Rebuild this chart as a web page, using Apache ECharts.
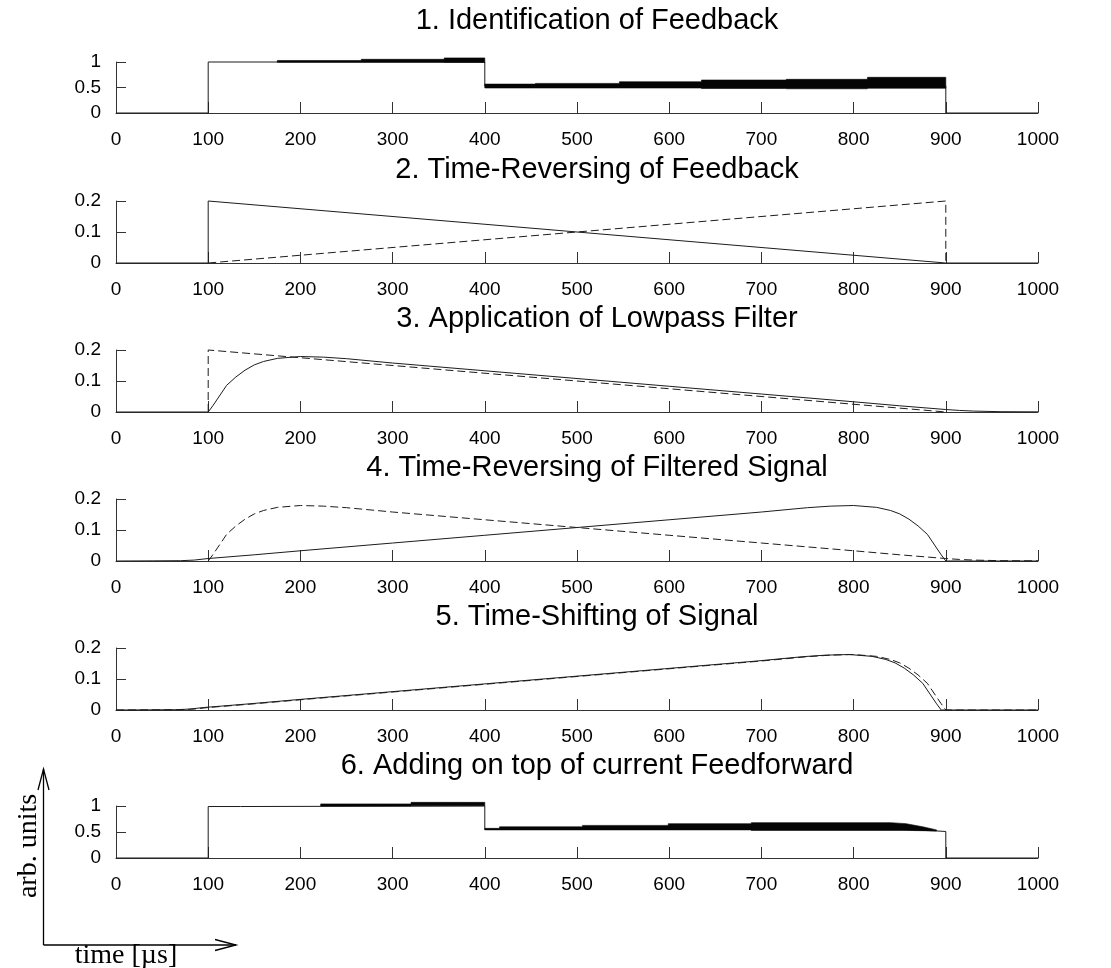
<!DOCTYPE html>
<html>
<head>
<meta charset="utf-8">
<script src="https://cdn.jsdelivr.net/npm/echarts/dist/echarts.min.js"></script>
<style>
html,body{margin:0;padding:0;background:#fff;}
#chart{width:1111px;height:968px;}
</style>
</head>
<body>
<div id="chart"></div>
<script>
// ---------- data (x in µs, y in arb. units) ----------
const xTicks = [0,100,200,300,400,500,600,700,800,900,1000];
const titles = [
  '1. Identification of Feedback',
  '2. Time-Reversing of Feedback',
  '3. Application of Lowpass Filter',
  '4. Time-Reversing of Filtered Signal',
  '5. Time-Shifting of Signal',
  '6. Adding on top of current Feedforward'
];
const yRanges = [[0,1,0.5],[0,0.2,0.1],[0,0.2,0.1],[0,0.2,0.1],[0,0.2,0.1],[0,1,0.5]];

// Panel 1: feedback (thin line + oscillation envelope bands [x, low, high])
const p1Line = [[0,0],[100,0],[100,1],[400,1],[400,0.53],[900,0.53],[900,0],[1000,0]];
const p1BandA = [[175,0.995,1.03],[266,0.995,1.03],[266,0.995,1.053],[356,0.995,1.053],[356,0.99,1.08],[400,0.99,1.08]];
const p1BandB = [[400,0.49,0.567],[455,0.49,0.567],[455,0.49,0.58],[546,0.49,0.58],[546,0.49,0.613],[635,0.49,0.613],
                 [635,0.48,0.647],[727,0.48,0.647],[727,0.475,0.66],[815,0.475,0.66],[815,0.485,0.70],[900,0.485,0.70]];

// Panel 2: time reversed feedback
const p2Solid  = [[0,0],[100,0],[100,0.2],[900,0],[1000,0]];
const p2Dashed = [[100,0],[900,0.2],[900,0]];

// Panel 3: lowpass filter
const p3Dashed = [[100,0],[100,0.2],[900,0]];
const p3Solid  = [[0,0],[100,0],[105,0.02],[110,0.042],[120,0.086],[130,0.113],[140,0.135],[150,0.152],[160,0.163],
                  [175,0.173],[200,0.179],[225,0.177],[250,0.172],[300,0.158],[400,0.133],[500,0.108],[600,0.083],
                  [700,0.058],[800,0.033],[850,0.02],[900,0.008],[915,0.005],[930,0.003],[960,0.001],[1000,0.0005]];

// Panel 4: time reversing of filtered signal
const p4Solid  = [[0,0],[40,0.0005],[70,0.001],[85,0.003],[100,0.008],[150,0.02],[200,0.033],[300,0.058],[400,0.083],
                  [500,0.108],[600,0.133],[700,0.158],[750,0.172],[775,0.177],[800,0.179],[825,0.173],[840,0.163],
                  [850,0.152],[860,0.135],[870,0.113],[880,0.086],[890,0.042],[895,0.02],[900,0],[1000,0]];
const p4Dashed = [[100,0],[105,0.02],[110,0.042],[120,0.086],[130,0.113],[140,0.135],[150,0.152],[160,0.163],
                  [175,0.173],[200,0.179],[225,0.177],[250,0.172],[300,0.158],[400,0.133],[500,0.108],[600,0.083],
                  [700,0.058],[800,0.033],[850,0.02],[900,0.008],[915,0.005],[930,0.003],[960,0.001],[1000,0.0005]];

// Panel 5: time shifting
const p5Dashed = [[0,0],[40,0.0005],[70,0.001],[85,0.003],[100,0.008],[150,0.02],[200,0.033],[300,0.058],[400,0.083],
                  [500,0.108],[600,0.133],[700,0.158],[750,0.172],[775,0.177],[800,0.179],[825,0.173],[840,0.163],
                  [850,0.152],[860,0.135],[870,0.113],[880,0.086],[890,0.042],[895,0.02],[900,0],[1000,0]];
const p5Solid  = [[0,0],[35,0.0005],[65,0.001],[80,0.003],[95,0.008],[145,0.02],[195,0.033],[295,0.058],[395,0.083],
                  [495,0.108],[595,0.133],[695,0.158],[745,0.172],[770,0.177],[795,0.179],[820,0.173],[835,0.163],
                  [845,0.152],[855,0.135],[865,0.113],[875,0.086],[885,0.042],[890,0.02],[895,0],[1000,0]];

// Panel 6: new feedforward
const p6Line = [[0,0],[100,0],[100,0.99],[135,0.99],[135,1],[400,1],[400,0.55],[850,0.55],[890,0.52],[900,0.51],[900,0],[1000,0]];
const p6BandA = [[222,1.0,1.04],[320,1.0,1.04],[320,1.005,1.07],[400,1.005,1.07]];
const p6BandB = [[400,0.54,0.57],[416,0.54,0.57],[416,0.54,0.60],[506,0.54,0.60],[506,0.54,0.627],[599,0.54,0.627],
                 [599,0.54,0.66],[689,0.54,0.66],[689,0.53,0.68],[840,0.53,0.68],[857,0.53,0.66],[875,0.525,0.60],[890,0.52,0.54]];

// ---------- layout ----------
const L = 116, R = 73;
const tops = [62,201,350,499,648,806];
const heights = [51,62,62,62,62,52];
const titleY = [21,170,319,468,617,766];
const titleX = 597;
const LINE = '#1c1c1c', AX = '#333';
const FONT = '"Liberation Sans", Arial, Helvetica, sans-serif';
const fmt = v => String(parseFloat(Number(v).toFixed(3)));

const grids = [], xAxes = [], yAxes = [], series = [];
for (let i = 0; i < 6; i++) {
  grids.push({left: L, right: R, top: tops[i], height: heights[i], containLabel: false});
  xAxes.push({
    type: 'value', gridIndex: i, min: xTicks[0], max: xTicks[xTicks.length - 1], interval: xTicks[1] - xTicks[0],
    axisLine: {show: true, onZero: false, lineStyle: {color: AX, width: 1}},
    axisTick: {show: true, inside: true, length: 11, lineStyle: {color: AX}},
    splitLine: {show: false},
    axisLabel: {margin: 17, fontSize: 19, fontFamily: FONT, color: '#000', formatter: fmt}
  });
  yAxes.push({
    type: 'value', gridIndex: i, min: yRanges[i][0], max: yRanges[i][1], interval: yRanges[i][2],
    axisLine: {show: true, onZero: false, lineStyle: {color: AX, width: 1}},
    axisTick: {show: true, inside: true, length: 10, lineStyle: {color: AX}},
    splitLine: {show: false},
    axisLabel: {margin: 15, fontSize: 19, fontFamily: FONT, color: '#000', formatter: fmt}
  });
}

function line(i, data, dashed) {
  return {type: 'line', xAxisIndex: i, yAxisIndex: i, data: data, showSymbol: false, symbol: 'none',
          clip: false, silent: true, animation: false, z: 3,
          lineStyle: {color: LINE, width: 1, type: dashed ? [8, 4] : 'solid'}};
}
function band(i, rows) {
  return {type: 'custom', xAxisIndex: i, yAxisIndex: i, data: rows, clip: false, silent: true, animation: false, z: 4,
          encode: {x: 0, y: [1, 2]},
          renderItem: function (params, api) {
            if (params.dataIndex !== 0) return null;
            const up = rows.map(r => api.coord([r[0], r[2]]));
            const lo = rows.slice().reverse().map(r => api.coord([r[0], r[1]]));
            return {type: 'polygon', shape: {points: up.concat(lo)}, style: {fill: '#050505', stroke: '#050505', lineWidth: 0.6}};
          }};
}

series.push(line(0, p1Line, false), band(0, p1BandA), band(0, p1BandB));
series.push(line(1, p2Solid, false), line(1, p2Dashed, true));
series.push(line(2, p3Dashed, true), line(2, p3Solid, false));
series.push(line(3, p4Solid, false), line(3, p4Dashed, true));
series.push(line(4, p5Solid, false), line(4, p5Dashed, true));
series.push(line(5, p6Line, false), band(5, p6BandA), band(5, p6BandB));

const graphic = [];
titles.forEach((t, i) => {
  graphic.push({type: 'text', x: titleX, y: titleY[i], silent: true,
    style: {text: t, font: '29px ' + FONT, fill: '#000', align: 'center', verticalAlign: 'middle'}});
});
// axes legend (arrows)
const ARW = {stroke: '#000', lineWidth: 1.3, fill: null};
graphic.push(
  {type: 'line', shape: {x1: 43.5, y1: 945, x2: 43.5, y2: 769}, style: ARW, silent: true},
  {type: 'polyline', shape: {points: [[38, 790], [43.5, 769], [49, 790]]}, style: ARW, silent: true},
  {type: 'line', shape: {x1: 43.5, y1: 945, x2: 236, y2: 945}, style: ARW, silent: true},
  {type: 'polyline', shape: {points: [[215, 939.5], [236, 945], [215, 950.5]]}, style: ARW, silent: true},
  {type: 'text', x: 29, y: 846, rotation: Math.PI / 2, silent: true,
   style: {text: 'arb. units', font: '28px "Liberation Serif", "Times New Roman", serif', fill: '#000', align: 'center', verticalAlign: 'middle'}},
  {type: 'text', x: 126, y: 956, silent: true,
   style: {text: 'time [µs]', font: '28px "Liberation Serif", "Times New Roman", serif', fill: '#000', align: 'center', verticalAlign: 'middle'}}
);

const chart = echarts.init(document.getElementById('chart'), null, {renderer: 'canvas'});
chart.setOption({
  backgroundColor: '#fff',
  animation: false,
  grid: grids, xAxis: xAxes, yAxis: yAxes, series: series, graphic: graphic
});
</script>
</body>
</html>
